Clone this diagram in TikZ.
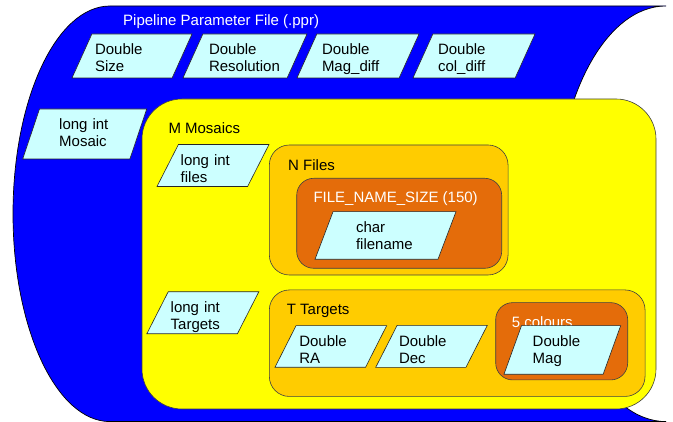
\documentclass[tikz,border=0pt]{standalone}
\usepackage{fontspec}
\setmainfont{Liberation Sans}
\usetikzlibrary{shapes.geometric}
\definecolor{fileblue}{HTML}{0000FF}
\definecolor{mosaicyellow}{HTML}{FFFF00}
\definecolor{groupamber}{HTML}{FFCC00}
\definecolor{arrayorange}{HTML}{E46C0A}
\definecolor{fieldcyan}{HTML}{CCFFFF}

\begin{document}
\begin{tikzpicture}[x=1pt,y=1pt,font=\fontsize{15}{17}\selectfont]
% Define styles
\tikzset{field/.style={trapezium, trapezium left angle=63, trapezium right angle=117,
  trapezium stretches body, draw=black!85, line width=0.6pt, fill=fieldcyan,
  inner sep=0pt, align=left, minimum height=#1,
  execute at begin node={\rule{0pt}{\dimexpr 62pt-#1\relax}},
  execute at end node={\rule[-4pt]{0pt}{4pt}}}}
\tikzstyle{group} = [draw=black!75, line width=0.6pt, inner sep=0pt]
\tikzstyle{title} = [anchor=base west, inner sep=0pt]
\useasboundingbox (0,0) rectangle (673,422);
% Parameter file
\draw[fill=fileblue, draw=black, line width=0.7pt] (110,416) -- (666,416)
  arc[start angle=90, end angle=270, x radius=110pt, y radius=207.8pt] -- (110,0.4)
  arc[start angle=270, end angle=90, x radius=97pt, y radius=207.8pt] -- cycle;
\node[title, text=white] (ppr) at (123,396) {Pipeline Parameter File (.ppr)};
\node[field=44pt, minimum width=120pt, text width=74pt] (size) at (132,366) {Double\\Size};
\node[field=44pt, minimum width=124pt, text width=72pt] (resolution) at (245,366) {Double\\Resolution};
\node[field=44pt, minimum width=122pt, text width=72pt] (mag_diff) at (358,366) {Double\\Mag\_diff};
\node[field=44pt, minimum width=122pt, text width=72pt] (col_diff) at (474,366) {Double\\col\_diff};
\node[field=50pt, minimum width=124pt, text width=51pt] (n_mosaic) at (84.7,288) {long int\\Mosaic};
% Mosaics
\node[group, fill=mosaicyellow, rounded corners=40pt, minimum width=514pt, minimum height=310pt] (mosaics) at (399,168) {};
\node[title] (mosaics_lbl) at (168.3,288) {M Mosaics};
\node[field=41pt, minimum width=112pt, text width=64.6pt] (n_files) at (213,256.5) {long int\\files};
\node[field=41pt, minimum width=112pt, text width=64.2pt] (n_targets) at (202.8,109.2) {long int\\Targets};
% Files
\node[group, fill=groupamber, rounded corners=20pt, minimum width=238.7pt, minimum height=130pt] (files) at (388.7,212) {};
\node[title] (files_lbl) at (288,251.3) {N Files};
\node[group, fill=arrayorange, rounded corners=17pt, minimum width=205pt, minimum height=90pt] (name_size) at (399.2,198.7) {};
\node[title, text=white] (name_size_lbl) at (313.3,219.3) {FILE\_NAME\_SIZE (150)};
\node[field=47.6pt, minimum width=141pt, text width=59pt] (filename) at (385.5,186.5) {char\\filename};
% Targets
\node[group, fill=groupamber, rounded corners=20pt, minimum width=375.7pt, minimum height=106.5pt] (targets) at (457.2,78.8) {};
\node[title] (targets_lbl) at (286.7,107) {T Targets};
\node[field=41.6pt, minimum width=111.7pt, text width=63pt] (ra) at (330.8,75.5) {Double\\RA};
\node[field=41pt, minimum width=111.6pt, text width=65pt] (dec) at (431.5,75.6) {Double\\Dec};
\node[group, fill=arrayorange, rounded corners=17pt, minimum width=132pt, minimum height=77.3pt] (colours) at (561.7,80.7) {};
\node[title, text=white] (colours_lbl) at (511.7,94.5) {5 colours};
\node[field=48.6pt, minimum width=116.7pt, text width=59.2pt] (mag) at (562.3,72) {Double\\Mag};
\end{tikzpicture}
\end{document}
